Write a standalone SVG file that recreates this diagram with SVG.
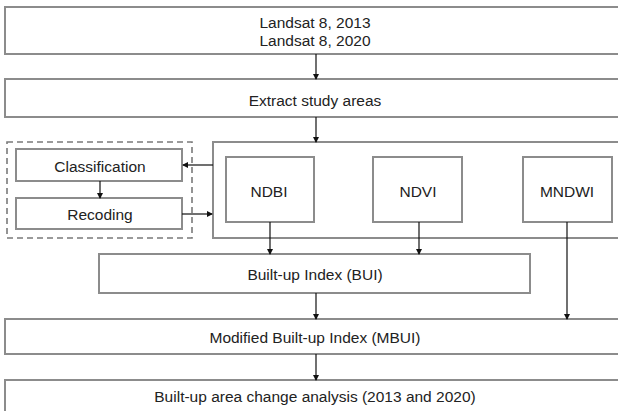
<svg xmlns="http://www.w3.org/2000/svg" width="618" height="411" viewBox="0 0 618 411">
<defs>
<marker id="ah" markerWidth="6" markerHeight="6" refX="5" refY="3" orient="auto" markerUnits="userSpaceOnUse">
<path d="M0,0 L6,3 L0,6 Z" fill="#111"/>
</marker>
<style>
.box{fill:#fff;stroke:#8c8c8c;stroke-width:2}
.dash{fill:none;stroke:#7a7a7a;stroke-width:1.6;stroke-dasharray:6,4}
.t{font-family:"Liberation Sans",Arial,sans-serif;font-size:15.5px;fill:#222;text-anchor:middle}
.c{stroke:#111;stroke-width:1.2;fill:none;marker-end:url(#ah)}
</style>
</defs>
<rect width="618" height="411" fill="#fff"/>
<g id="landsat"><rect class="box" x="5" y="7" width="620" height="47"/><text class="t" x="315" y="27.5">Landsat 8, 2013</text><text class="t" x="315" y="45.5">Landsat 8, 2020</text></g>
<g id="extract"><rect class="box" x="5" y="79" width="620" height="38"/><text class="t" x="315" y="105.5">Extract study areas</text></g>
<g id="indices"><rect class="box" x="213" y="142" width="412" height="96"/></g>
<g id="classgroup"><rect class="dash" x="7" y="142" width="185" height="96"/></g>
<g id="classification"><rect class="box" x="16" y="149" width="166" height="32"/><text class="t" x="100" y="172">Classification</text></g>
<g id="recoding"><rect class="box" x="16" y="198" width="166" height="31"/><text class="t" x="100" y="220">Recoding</text></g>
<g id="ndbi"><rect class="box" x="226" y="157" width="88" height="65"/><text class="t" x="269" y="196.5">NDBI</text></g>
<g id="ndvi"><rect class="box" x="373" y="157" width="89" height="65"/><text class="t" x="418" y="196.5">NDVI</text></g>
<g id="mndwi"><rect class="box" x="523" y="157" width="89" height="65"/><text class="t" x="567" y="196.5">MNDWI</text></g>
<g id="bui"><rect class="box" x="99" y="254" width="431" height="39"/><text class="t" x="315" y="279.5">Built-up Index (BUI)</text></g>
<g id="mbui"><rect class="box" x="5" y="319" width="620" height="35"/><text class="t" x="315" y="342.5">Modified Built-up Index (MBUI)</text></g>
<g id="change"><rect class="box" x="5" y="380" width="620" height="40"/><text class="t" x="315" y="402">Built-up area change analysis (2013 and 2020)</text></g>
<g id="connectors">
<line class="c" x1="316" y1="54" x2="316" y2="79"/>
<line class="c" x1="316" y1="117" x2="316" y2="142"/>
<line class="c" x1="213" y1="165" x2="183" y2="165"/>
<line class="c" x1="100" y1="181" x2="100" y2="198"/>
<line class="c" x1="182" y1="214" x2="212" y2="214"/>
<line class="c" x1="270" y1="222" x2="270" y2="254"/>
<line class="c" x1="419" y1="222" x2="419" y2="254"/>
<line class="c" x1="567" y1="222" x2="567" y2="319"/>
<line class="c" x1="316" y1="293" x2="316" y2="319"/>
<line class="c" x1="316" y1="354" x2="316" y2="380"/>
</g>
</svg>
